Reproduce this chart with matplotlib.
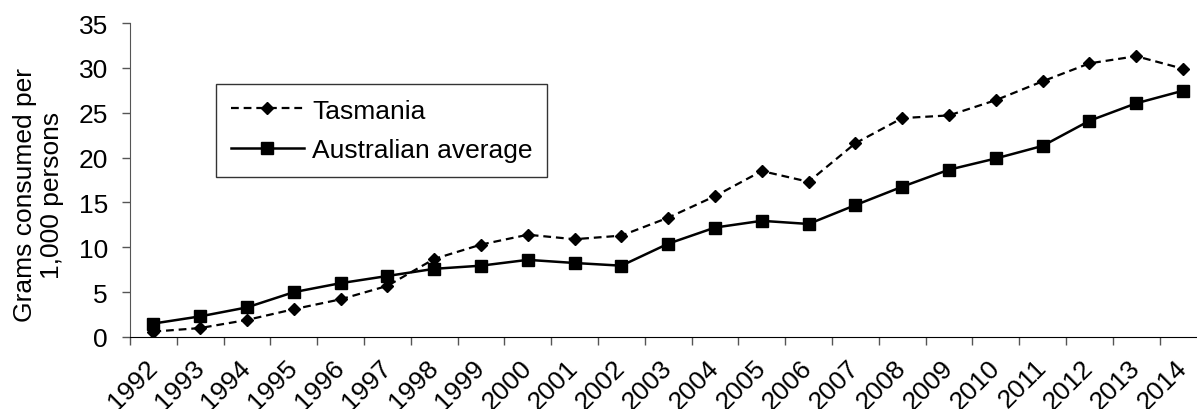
import matplotlib
matplotlib.use("Agg")
import matplotlib.pyplot as plt
import numpy as np

years = [str(y) for y in range(1992, 2015)]
tasmania = [0.6, 1.0, 1.9, 3.1, 4.2, 5.7, 8.7, 10.3, 11.4, 10.9, 11.3, 13.3, 15.7,
            18.5, 17.3, 21.6, 24.4, 24.7, 26.4, 28.5, 30.5, 31.3, 29.9]
australia = [1.5, 2.3, 3.3, 5.0, 6.0, 6.8, 7.6, 7.95, 8.6, 8.25, 7.95, 10.4, 12.2,
             12.95, 12.6, 14.7, 16.75, 18.65, 19.9, 21.3, 24.1, 26.05, 27.45]
yticks = [0, 5, 10, 15, 20, 25, 30, 35]

plt.rcParams['font.family'] = ['Liberation Sans', 'DejaVu Sans']
FS = 19

W, H = 1197, 410
fig = plt.figure(figsize=(W / 100, H / 100), dpi=100)
left, right, bottom, top = 130, 1206.4, 338, 24
ax = fig.add_axes([left / W, (H - bottom) / H, (right - left) / W, (bottom - top) / H])

x = np.arange(len(years))
ax.plot(x, tasmania, color='black', linestyle=(0, (3.5, 2.2)), linewidth=1.6,
        marker='D', markersize=6, label='Tasmania')
ax.plot(x, australia, color='black', linestyle='-', linewidth=1.8,
        marker='s', markersize=8, label='Australian average')

ax.set_xlim(-0.5, len(years) - 0.5)
ax.set_ylim(0, 35)
ax.set_yticks(yticks)
ax.set_yticklabels([str(v) for v in yticks], fontsize=FS)

ax.set_xticks(np.arange(len(years) + 1) - 0.5)
ax.set_xticklabels([])
ax.set_xticks(x, minor=True)
ax.set_xticklabels(years, minor=True, rotation=45, ha='right', va='center',
                   rotation_mode='anchor', fontsize=FS)
ax.tick_params(axis='x', which='major', direction='out', length=6, width=1, color='#555555')
ax.tick_params(axis='x', which='minor', length=0, pad=19)
ax.tick_params(axis='y', direction='out', length=6, width=1, color='#555555', pad=10)

for s in ['top', 'right']:
    ax.spines[s].set_visible(False)
ax.spines['left'].set_color('#555555')
ax.spines['bottom'].set_color('black')

ax.set_ylabel('Grams consumed per\n1,000 persons', fontsize=FS, linespacing=1.15)
ax.yaxis.set_label_coords((64 - left) / (right - left), (bottom - 195) / (bottom - top))

leg = ax.legend(loc='upper left', bbox_to_anchor=((216 - left) / (right - left), (338 - 85) / (bottom - top)),
                fontsize=FS, frameon=True, fancybox=False, edgecolor='black',
                handlelength=2.8, handletextpad=0.3, borderpad=0.55, labelspacing=0.6,
                borderaxespad=0)
leg.get_frame().set_linewidth(1.0)

fig.savefig('out.png', dpi=100)
